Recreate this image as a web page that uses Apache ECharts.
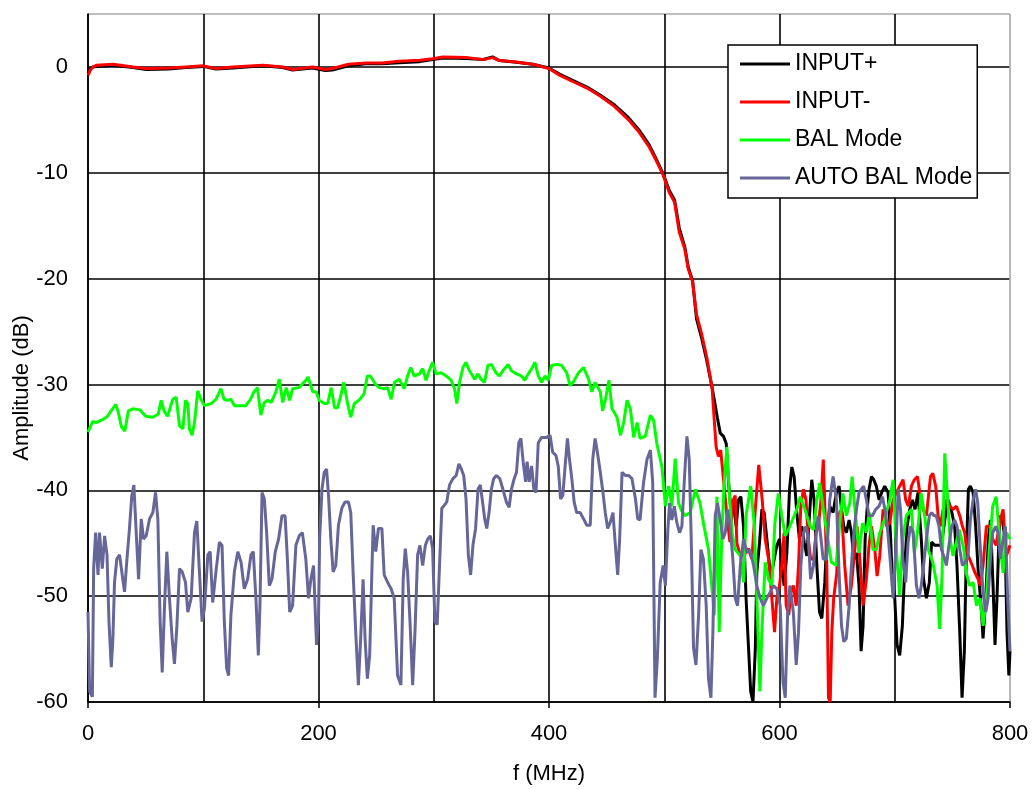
<!DOCTYPE html>
<html>
<head>
<meta charset="utf-8">
<script src="https://cdn.jsdelivr.net/npm/echarts@6/dist/echarts.min.js"></script>
<style>
  html, body { margin: 0; padding: 0; background: #fff; }
  #chart { width: 1032px; height: 790px; }
</style>
</head>
<body>
<div id="chart"></div>
<script>
// legend names
let seriesNames = ["INPUT+", "INPUT-", "BAL Mode", "AUTO BAL Mode"];
let seriesColors = ["#000000", "#ff0000", "#00ff00", "#666699"];

// INPUT+ (black)
let posFreq = [0,2,4.3,7.2,21.7,39,50.6,70,85,100,111,125.8,151.8,169,177.5,194.8,206,212,226,241,255,270,287.8,299,308,328,343,351,357,371.6,385.8,400,409.5,421,433,445,457,469,477.7,486.6,492.6,499,504.5,509,513,517.8,520.8,524.6,528,532.6,537,541.5,
  544,546,548.6,551.4,553.8,555.8,557.8,560,562.4,564.4,566.5,568.8,571,573,575,577,579,580.3,582.7,584.7,586.7,589,591.3,593.4,595.4,597.7,600,602,604,606.4,608.7,610.7,612.7,615,617.3,619.4,621.4,623.7,626,628,630,632.4,634.7,636.7,639.3,
  641.3,643.6,646.5,649.4,651.7,653.8,655.8,658,660.4,662.4,664.5,666.8,669,670.8,672.5,674.3,676,677.7,679.8,681.8,684,686.4,688.7,691.3,694.2,696.2,698,700,702,704.3,706.6,708.7,710.7,713,715.3,717.6,720.2,723,725,727.5,730,732,734.7,737.6,740.5,743.4,746.2,749,752,754,756.4,758.4,760.4,762,763.9,765.6,768,770.2,772.5,774.9,776.6,779,781.2,783,785.3,787,788.7,791,793.4,795.7,797.4,799,800];
let posAmp = [-0.6,-0.2,0,0.05,0.15,-0.05,-0.25,-0.2,-0.05,0.05,-0.2,-0.1,0.1,-0.05,-0.3,-0.1,-0.35,-0.3,0.1,0.3,0.3,0.4,0.5,0.7,0.85,0.8,0.7,0.95,0.6,0.45,0.25,-0.1,-0.7,-1.3,-1.9,-2.7,-3.6,-4.8,-5.9,-7.3,-8.6,-10.1,-11.7,-12.6,-15.2,-17.0,-18.9,-20.2,-23.8,-25.7,-27.8,-30.3,
  -31.8,-33.1,-34.6,-34.9,-35.6,-39.3,-41.8,-41.2,-43.4,-40.9,-40.6,-43.4,-50.2,-54.6,-59.0,-60,-55,-47.8,-44.9,-41.8,-42.1,-44.6,-47.1,-47.8,-46.5,-45.2,-44.6,-47.1,-49.0,-45.9,-39.9,-37.8,-38.7,-42.1,-44.6,-43.4,-44.9,-46.2,-42.4,-39.0,-40.9,-47.1,-51.5,-52.1,-48.7,
  -44.0,-41.5,-42.1,-40.2,-39.6,-41.8,-43.4,-44.0,-42.8,-44.0,-46.5,-45.9,-49.0,-55.2,-52.8,-44.6,-41.8,-39.9,-38.7,-39.0,-39.6,-40.9,-40.2,-39.6,-40.2,-44.0,-48.7,-50.2,-54.6,-55.6,-52.8,-47.1,-43.4,-41.8,-40.9,-41.8,-40.2,-44.6,-48.4,-50.2,-48.7,-44.9,-45.2,-45.2,-45.2,-42.8,-40.9,-41.8,-43.4,-47.1,-53.4,-59.6,-55.2,-46.5,-39.9,-39.6,-40.2,-43.4,-47.8,-50.9,-54.0,-50.2,-44.6,-42.8,-49.0,-54.6,-50.2,-42.4,-42.8,-44.6,-53.4,-57.5,-55.2];

// INPUT- (red)
let negFreq = [0,2,4.3,7.2,21.7,39,50.6,70,85,100,111,125.8,151.8,169,177.5,194.8,206,212,226,241,255,270,287.8,299,308,328,343,351,357,371.6,385.8,400,409.5,421,433,445,457,469,477.7,486.6,492.6,499,504.5,509,513,517.8,520.8,524.6,528,532.6,537,541.5,
  543.4,545,547,549,551,554,557,559.5,561.6,563,566,570,573,576,579,582,585,587.6,590.5,593.4,595.7,597.7,600,602,604,605.8,608,610,612,614.5,616.5,618.5,620.8,623,625,627,629.5,631.8,633.8,636,638,639.6,641,642.5,644,645.4,647,649.7,651,653.8,656.6,659.5,662.4,665.3,667.3,669.7,672.5,675.4,677.7,679.8,682.7,684.7,687,689.9,692.8,695.7,698.6,701.4,704.3,707.2,709.5,711.8,714.5,717,719.7,721.7,724.6,727.5,731,733,735.5,737.6,739.6,742,744.8,747.7,750.6,753.5,756.4,758.7,760.7,762.7,765,767.3,769.7,772.3,774.3,776.6,779.5,782.4,785,788,791,794,796.8,800];
let negAmp = [-0.8,-0.3,0,0.15,0.25,0,-0.15,-0.1,0,0.1,-0.15,0,0.15,0,-0.25,0,-0.25,-0.15,0.25,0.38,0.38,0.53,0.63,0.78,0.94,0.88,0.69,0.88,0.6,0.47,0.25,-0.15,-0.8,-1.4,-2.0,-2.8,-3.75,-5.0,-6.1,-7.5,-8.75,-10.2,-11.9,-12.8,-15.6,-17.2,-19.1,-20.3,-23.4,-25.3,-27.5,-30.3,
  -33.4,-35.9,-36.8,-36.2,-38.5,-42.0,-44.9,-41.0,-40.5,-45.0,-46.2,-46.0,-45.5,-46.5,-41.8,-37.6,-40.9,-44.6,-46.5,-50.2,-53.4,-50.2,-49.0,-47.1,-44.0,-50.9,-51.8,-49.6,-49.0,-50.9,-47.1,-41.5,-39.9,-40.9,-44.6,-46.5,-46.5,-44.0,-43.4,-40.9,-37.1,-37.0,-47.1,-59.6,-60,-53.4,-50.2,-47.8,-42.4,-41.8,-47.1,-50.9,-49.0,-45.6,-43.4,-46.5,-50.9,-48.4,-45.2,-43.4,-45.6,-48.1,-46.2,-41.8,-43.4,-43.1,-40.9,-40.2,-39.6,-39.0,-40.9,-41.5,-39.6,-39.0,-38.7,-40.2,-41.8,-42.4,-38.7,-38.4,-39.6,-42.4,-43.4,-41.8,-40.9,-41.5,-41.8,-41.5,-42.4,-43.4,-44.0,-45.9,-46.5,-47.1,-47.8,-48.4,-49.0,-47.1,-43.4,-43.4,-44.6,-45.2,-43.1,-41.8,-46.2,-45.2];

// BAL Mode (green)
let balFreq = [0,4,7,13,17,20,24,26,29,32,35,39,45,50,56,61,63.5,66,69,73.6,76.5,79.4,82.3,84.6,86.6,88,90.3,92.4,95.2,98,101,107,111,115.4,118,121,124,127,131,137,141,144,147,150,153,156,159,163,166,169,172,175,177.5,183,189,191,195,198,200.6,205,208,211,214,216.5,219,222,225,228,231,235,239.5,242.4,245,249.6,
  252.6,257,260,263,266,270,274.4,277.3,280,283,287.5,290.4,293.3,296,299,302,306.4,310.8,315,318,320,322.4,325.3,328,331,335.5,338.4,341,344,347,350,354,357,360,364.5,367.4,371.8,376,379,382,385,387.8,390.7,393.6,396.5,399.4,402.3,406.7,411,415.4,418.3,421,425.6,430,434.3,437.2,440,444.5,446.5,449,452,454.7,459,462,464.8,467.7,470.6,473.5,476.5,
  479,483.5,488,490.8,493.6,498,501,503.8,506.6,509.5,512.4,515.3,518,522.5,527,531,534,538.4,541.4,543.4,545.7,547.7,550,552,554.3,556.6,558.7,561.6,566,568.8,571,575,578,580,583,584.7,587.6,590.5,593.4,596,599,602,605,609,615,618,622,626.6,629.5,632.4,
  635,638,645,649.4,652,655,658,661,663,666,669,672,675.4,678,681,684,687,691,695.7,698.6,701.4,704.3,707,710,714.5,717,720,723,726,729,733,736.7,739,741,743.4,745,748,750.6,753.5,756,760,762,765,768,771,774,776.6,779.5,782,785,788,791,794,797,800];
let balAmp = [-34.5,-33.5,-33.6,-33.3,-33.0,-32.5,-31.9,-32.5,-34.0,-34.4,-32.5,-32.3,-32.4,-33.0,-33.1,-32.8,-31.5,-32.5,-33.0,-31.4,-31.2,-33.9,-34.2,-31.5,-31.8,-34.2,-34.8,-33.6,-30.6,-31.4,-32.0,-31.8,-31.4,-30.4,-31.4,-31.5,-31.4,-32.0,-32.0,-32.0,-31.4,-30.7,-30.3,-32.9,-31.7,-31.5,-31.7,-30.7,-29.5,-31.7,-30.3,-31.5,-30.4,-30.3,-29.6,-29.3,-30.7,-30.7,-31.5,-31.8,-31.8,-30.3,-32.2,-32.2,-31.2,-29.8,-31.7,-33.1,-31.8,-31.5,-30.9,-29.2,-29.2,-30.0,
  -30.3,-30.4,-30.3,-31.4,-29.8,-29.5,-30.4,-29.2,-28.4,-29.2,-29.0,-28.5,-29.6,-28.7,-27.9,-29.0,-28.9,-29.2,-29.6,-30.4,-31.8,-29.8,-28.4,-27.9,-28.7,-29.5,-29.0,-29.5,-29.8,-28.2,-28.1,-28.9,-29.2,-28.7,-28.1,-28.7,-29.0,-29.2,-29.6,-29.0,-28.5,-27.9,-29.2,-29.8,-29.2,-29.6,-28.2,-28.1,-28.2,-28.9,-30.1,-29.8,-28.9,-28.4,-29.5,-30.7,-29.8,-30.7,-32.5,-31.4,-29.6,-32.3,-33.1,-34.8,-33.6,-31.5,-32.3,-35.0,-33.6,
  -35.1,-34.9,-32.9,-33.4,-35.6,-37.8,-41.5,-39.6,-41.5,-37.0,-41.2,-42.0,-42.4,-42.1,-39.9,-41.2,-43.1,-45.6,-49.3,-51.8,-40.6,-53.4,-44.0,-39.3,-35.9,-40.6,-44.0,-45.6,-46.2,-48.7,-42.4,-39.6,-43.1,-49.0,-59.0,-53.4,-46.8,-48.4,-49.0,-43.1,-40.3,-42.4,-44.3,-43.4,-41.8,-40.6,-41.8,-43.4,-43.7,-40.9,
  -39.3,-41.8,-46.8,-47.1,-43.4,-40.3,-42.4,-41.2,-38.7,-42.4,-45.9,-43.1,-44.0,-42.1,-45.6,-45.6,-44.0,-42.8,-40.9,-39.0,-45.6,-49.9,-44.6,-42.4,-41.8,-45.9,-43.7,-40.3,-42.4,-45.6,-46.8,-49.0,-53.1,-48.1,-36.5,-39.3,-44.6,-46.2,-44.9,-43.7,-45.6,-47.8,-49.0,-48.7,-50.9,-50.2,-52.8,-50.2,-45.6,-41.5,-40.6,-44.6,-47.8,-44.0,-44.6];

// AUTO BAL Mode (purple)
let autoFreq = [0,1.4,3.8,4.9,6.6,8.7,10,12.4,14.4,16.5,18.2,20.2,21.6,23,25,27.4,29.7,31.7,33.8,36,38,39.8,41.8,43.9,46.2,48.2,50.5,53.4,56.3,58.6,60.6,62.6,64.4,66.4,68.4,70.7,73,75,77,79.4,81.7,84.6,86.6,89.5,92.4,94.4,96.7,99,101,104,106,108.2,111,114,116.3,118.3,120.3,122,124,127,130,132.8,135.6,138.5,141.4,143.4,145.7,147.8,149.2,151,153,155,157.3,159.6,162.5,165.4,168.3,171,173,175,177.5,180.4,183.3,186,189,191.3,193.4,195.7,198.3,200,201,203,205,207,208.7,210.7,212.7,215,217.3,220.2,223,226,228,230,232.3,234.6,236.6,238.7,240.4,242.4,244.4,
  247.4,249.7,252,255,257,260,263,265.7,268.6,271.5,273.5,275.3,277.3,279.4,281.7,283.7,286,288,290.4,292.7,294.8,297,299,301,303,305,307,309.3,311.3,313.7,316.6,319.5,321.8,324,326,328,330,332,334,336.3,338.4,340.4,342.7,344.2,346,348,350,352,354.4,357.3,360,363,365.4,367.4,369.8,371.8,373.8,375.6,377.6,379.7,381,382.8,384.9,386.9,388.7,390.7,393.6,398,400.9,403.2,406,408,410,412,414,416,417.7,419.8,421.8,424,427,430,432.8,435.8,438,440,442,444.5,446.8,448.8,450.9,453.2,455.5,457.6,459.6,461.3,463.4,466.3,469.2,472,475,477,
  479,482,485,488,490,492,494,496.5,499,501,503,504.6,506.6,508.7,511,513.3,515.3,517.6,519.7,521.7,523.4,525.4,527.5,529.8,531.8,534,536.4,538.4,540.5,542.2,544.2,546.2,548.6,550.9,552.9,555,557.2,559.5,561.6,563.6,566,568.8,571.7,574.6,577.5,580.3,583.2,586,589,592,594.8,597.7,600.6,603,605,607,609,612,614.5,616.5,618.5,620.8,623,625,627,629.5,631.8,633.8,
  637.9,640.8,643.6,646.5,649.4,651.7,653.8,655.8,658,660.4,662.4,664.5,666.8,669,671,673,675.4,677.7,680.6,683.5,686.4,689.3,692,694,696,698.6,700.9,703,705,707,709.5,711.6,713.6,716,718.8,721,723,725,727.5,730,732,734,736,738.4,740.5,742.5,744.8,747,749.4,752,754,756.4,758.7,761,763.6,765.6,768,770.2,772,774.3,776.6,779,781,783,785,787.6,789.6,791.6,794,796,798,800];
let autoAmp = [-51.5,-59.0,-59.5,-47.4,-44.0,-48.0,-44.0,-47.4,-44.3,-46.1,-52.4,-56.7,-54.0,-48.7,-46.5,-46.1,-48.0,-49.6,-46.5,-43.6,-40.5,-39.5,-43.9,-48.4,-42.7,-44.6,-44.3,-42.7,-42.1,-40.2,-42.7,-52.4,-57.2,-50.9,-45.8,-50.2,-54.0,-56.4,-53.1,-47.4,-47.7,-48.7,-51.5,-50.2,-44.0,-42.9,-47.7,-52.4,-51.2,-46.1,-45.8,-50.6,-47.7,-44.9,-45.2,-52.4,-56.8,-57.5,-51.8,-47.7,-45.8,-46.8,-49.3,-48.4,-46.1,-45.8,-50.2,-55.6,-50.9,-40.2,-40.8,-44.0,-49.0,-48.4,-45.8,-44.6,-42.4,-42.4,-46.5,-51.5,-50.9,-45.2,-44.3,-44.0,-46.5,-50.2,-48.4,-47.1,-54.6,-52.1,-44.6,-39.9,-38.3,-38.0,-40.5,-44.6,-47.7,-47.1,-43.3,-41.7,-41.1,-41.1,-42.1,-47.7,-53.4,-58.4,-54.0,-48.4,-54.0,-57.8,-55.6,
  -43.3,-45.8,-43.6,-43.6,-48.0,-48.7,-49.3,-50.2,-57.5,-58.4,-48.4,-45.5,-47.7,-52.4,-58.4,-53.4,-46.1,-45.2,-47.1,-45.2,-44.6,-44.3,-45.5,-52.4,-52.7,-47.1,-41.7,-41.4,-41.1,-39.5,-38.9,-38.6,-37.5,-38.0,-38.6,-40.8,-46.1,-48.0,-45.2,-43.6,-39.9,-39.5,-41.4,-42.7,-43.6,-42.1,-39.9,-38.9,-38.6,-38.9,-39.9,-41.1,-41.6,-39.9,-38.9,-38.3,-35.5,-35.1,-37.3,-39.2,-37.3,-39.2,-37.7,-39.9,-40.2,-35.5,-35.0,-35.0,-34.8,-36.4,-36.7,-37.7,-40.8,-40.5,-37.7,-35.1,-37.0,-38.9,-41.1,-42.1,-42.1,-42.7,-43.3,-43.3,-37.0,-35.1,-36.4,-38.3,-40.2,-42.1,-43.6,-43.0,-42.1,-45.2,-48.0,-44.6,-38.3,-38.6,-38.6,-38.9,-40.8,-42.7,
  -42.8,-39.3,-37.1,-36.2,-39.3,-59.6,-55.9,-48.7,-47.1,-49.0,-44.0,-41.2,-42.8,-41.5,-43.1,-44.0,-43.4,-38.7,-34.9,-37.1,-44.6,-54.9,-56.5,-51.8,-45.6,-46.5,-50.9,-57.8,-59.6,-53.4,-42.4,-41.2,-42.8,-44.6,-44.0,-41.8,-43.4,-46.5,-50.2,-50.9,-47.1,-44.6,-45.9,-45.6,-47.1,-49.0,-50.2,-50.9,-50.2,-49.6,-49.0,-49.3,-50.9,-58.1,-59.6,-51.8,-49.0,-51.5,-56.5,-53.4,-47.1,-44.0,-43.4,-44.6,-48.4,-47.1,-44.0,-42.4,
  -46.5,-46.5,-40.9,-38.7,-40.9,-47.8,-52.8,-54.3,-54.0,-50.9,-47.1,-44.0,-41.8,-40.2,-39.9,-39.6,-40.9,-42.4,-42.4,-41.8,-41.5,-40.6,-42.1,-44.0,-46.5,-50.2,-45.6,-39.9,-41.8,-46.5,-48.7,-44.9,-43.4,-44.0,-49.0,-50.2,-49.0,-47.1,-44.6,-42.4,-42.1,-42.4,-42.4,-43.4,-45.6,-46.2,-47.1,-45.2,-43.4,-42.8,-43.4,-45.6,-47.1,-46.8,-46.2,-42.8,-40.9,-39.9,-41.2,-45.6,-49.6,-51.5,-50.2,-46.5,-44.0,-43.4,-44.0,-46.5,-44.6,-43.4,-50.2,-55.2];

// axis ticks
let xTicks = [0, 800, 200];      // min, max, interval
let yTicks = [-60, 5, 10];

let C = {};

C.init = function(){
  let series = [
    V.pairs(posFreq, posAmp),
    V.pairs(negFreq, negAmp),
    V.pairs(balFreq, balAmp),
    V.pairs(autoFreq, autoAmp)
  ];
  V.render(series);
}

let V = {
  dom: document.querySelector("#chart")
};

V.pairs = function(freq, amp){
  return freq.map((f, i) => [f, amp[i]]);
}

V.render = function(data){
  let myChart = echarts.init(V.dom, null, { renderer: 'canvas' });
  let font = "'Liberation Sans', Arial, sans-serif";
  let gridCol = '#000';
  let edgeCol = '#a8a8a8';

  let option = {
    animation: false,
    backgroundColor: '#fff',
    textStyle: { fontFamily: font },
    grid: {
      left: 88, right: 22, top: 14, bottom: 86,
      containLabel: false
    },
    legend: {
      orient: 'vertical',
      left: 728,
      top: 45,
      data: seriesNames,
      icon: 'rect',
      itemWidth: 50,
      itemHeight: 3,
      itemGap: 14,
      padding: [7, 5, 8, 12],
      backgroundColor: '#fff',
      borderColor: '#000',
      borderWidth: 1.5,
      borderRadius: 0,
      textStyle: { fontSize: 23, color: '#000', fontFamily: font, lineHeight: 24 }
    },
    xAxis: {
      type: 'value',
      min: xTicks[0],
      max: xTicks[1],
      interval: xTicks[2],
      name: 'f (MHz)',
      nameLocation: 'middle',
      nameGap: 61,
      nameTextStyle: { fontSize: 22, color: '#000', fontFamily: font },
      axisLine: { onZero: false, lineStyle: { color: '#000', width: 1.6 } },
      axisTick: { show: true, length: 6, lineStyle: { color: '#000', width: 1.5 } },
      axisLabel: { fontSize: 22, color: '#000', margin: 21, fontFamily: font },
      splitLine: { show: true, lineStyle: { color: [gridCol, gridCol, gridCol, gridCol, edgeCol], width: 1.6 } },
      minorTick: { show: false, splitNumber: 2 },
      minorSplitLine: { show: true, lineStyle: { color: gridCol, width: 1.6 } }
    },
    yAxis: {
      type: 'value',
      min: yTicks[0],
      max: yTicks[1],
      interval: yTicks[2],
      axisLine: { show: true, onZero: false, lineStyle: { color: '#000', width: 1.6 } },
      axisTick: { show: false },
      axisLabel: { fontSize: 22, color: '#000', margin: 20, showMaxLabel: false, fontFamily: font },
      splitLine: { show: true, lineStyle: { color: [gridCol, gridCol, gridCol, gridCol, gridCol, gridCol, gridCol, edgeCol], width: 1.6 } }
    },
    graphic: [{
      type: 'text',
      x: 22,
      y: 388,
      rotation: Math.PI / 2,
      style: {
        text: 'Amplitude (dB)',
        font: "22px 'Liberation Sans', Arial, sans-serif",
        fill: '#000',
        align: 'center',
        verticalAlign: 'middle'
      }
    }],
    series: data.map((d, i) => ({
      name: seriesNames[i],
      type: 'line',
      data: d,
      symbol: 'none',
      showSymbol: false,
      clip: true,
      color: seriesColors[i],
      lineStyle: { color: seriesColors[i], width: 3 }
    }))
  };

  myChart.setOption(option);
  window.addEventListener('resize', myChart.resize);
}

C.init();
</script>
</body>
</html>
